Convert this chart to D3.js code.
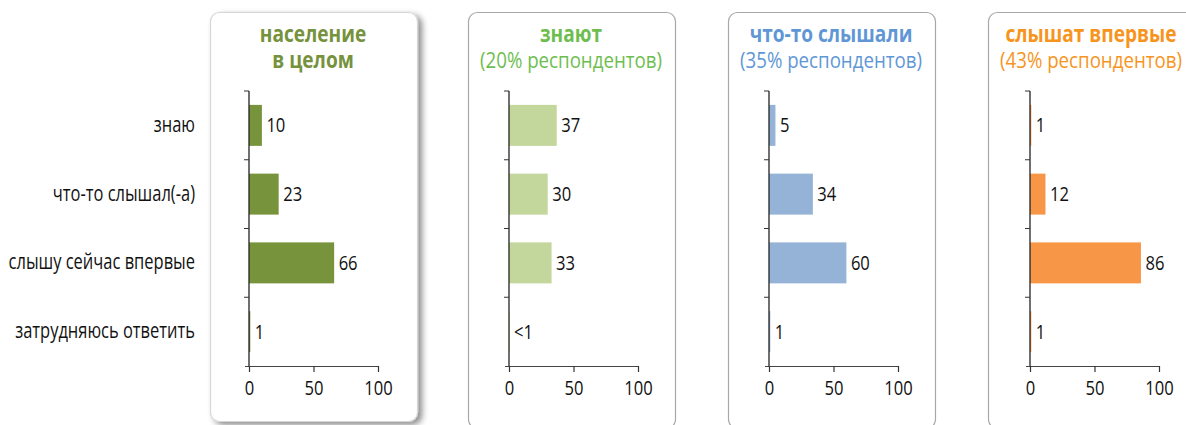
<!DOCTYPE html>
<html>
<head>
<meta charset="utf-8">
<script src="https://cdn.jsdelivr.net/npm/d3@7"></script>
<style>
  html, body { margin: 0; padding: 0; background: #fff; }
  svg { display: block; }
  text { font-family: "Open Sans", "Noto Sans", sans-serif; }
</style>
</head>
<body>
<svg id="chart" width="1186" height="425"></svg>
<script>
// Answer options (rows) and shares in percent for each group
const categories = ["знаю", "что-то слышал(-а)", "слышу сейчас впервые", "затрудняюсь ответить"];
const totalValues = [10, 23, 66, 1];
const knowValues = [37, 30, 33, 0.4];
const heardValues = [5, 34, 60, 1];
const firstTimeValues = [1, 12, 86, 1];
const knowLabels = ["37", "30", "33", "<1"];
const xTicks = [0, 50, 100];

const panels = [
  { title: "население", sub: "в целом", subBold: true, values: totalValues, labels: totalValues.map(String),
    bar: "#77933C", head: "#76923C", shadow: true },
  { title: "знают", sub: "(20% респондентов)", subBold: false, values: knowValues, labels: knowLabels,
    bar: "#C3D69B", head: "#6DBE4F", shadow: false },
  { title: "что-то слышали", sub: "(35% респондентов)", subBold: false, values: heardValues, labels: heardValues.map(String),
    bar: "#95B3D7", head: "#5F97D6", shadow: false },
  { title: "слышат впервые", sub: "(43% респондентов)", subBold: false, values: firstTimeValues, labels: firstTimeValues.map(String),
    bar: "#F79646", head: "#F7941D", shadow: false }
];

const svg = d3.select("#chart");

const defs = svg.append("defs");
const f = defs.append("filter").attr("id", "shadow")
  .attr("x", "-10%").attr("y", "-10%").attr("width", "130%").attr("height", "130%");
f.append("feDropShadow").attr("dx", 4).attr("dy", 3).attr("stdDeviation", 3)
  .attr("flood-color", "#000").attr("flood-opacity", 0.45);

// Narrow lettering: place text at (x, y) and squeeze it horizontally
function placeNarrow(sel, fx, fy, sx) {
  sel.attr("x", 0).attr("y", 0)
    .attr("transform", (d, i) => `translate(${fx(d, i)},${fy(d, i)}) scale(${sx},1)`);
}

const origins = [249, 509, 769, 1030];
const frameLefts = [210, 468, 728, 988];
const plotTop = 91, plotBottom = 366, plotWidth = 129;

const y = d3.scaleBand().domain(categories).range([plotTop, plotBottom])
  .paddingInner(0.404).paddingOuter(0.202);

// Row labels on the left
svg.append("g").selectAll("text").data(categories).join("text")
  .attr("text-anchor", "end")
  .attr("font-size", 21)
  .attr("fill", "#111")
  .text(d => d)
  .call(placeNarrow, () => 195, d => y(d) + y.bandwidth() / 2 + 6.5, 0.785);

panels.forEach((p, i) => {
  const ox = origins[i];
  const x = d3.scaleLinear().domain([0, 100]).range([ox, ox + plotWidth]);
  const g = svg.append("g");
  const left = frameLefts[i];

  // Rounded frame of the panel
  g.append("rect")
    .attr("x", left + 0.5).attr("y", 12.5)
    .attr("width", 207).attr("height", p.shadow ? 409 : 416)
    .attr("rx", 9)
    .attr("fill", "#fff")
    .attr("stroke", p.shadow ? "#d6d6d6" : "#a8a8a8")
    .attr("stroke-width", 1.2)
    .attr("filter", p.shadow ? "url(#shadow)" : null);

  const cx = left + 103;
  g.append("text").attr("text-anchor", "middle")
    .attr("font-size", 23).attr("font-weight", "bold").attr("fill", p.head).text(p.title)
    .call(placeNarrow, () => cx, () => 42, 0.83);
  g.append("text").attr("text-anchor", "middle")
    .attr("font-size", p.subBold ? 23 : 21).attr("font-weight", p.subBold ? "bold" : "normal")
    .attr("fill", p.head).text(p.sub)
    .call(placeNarrow, () => cx, () => 67.5, p.subBold ? 0.83 : 0.89);

  // Bars
  const rows = categories.map((c, k) => ({ c, v: p.values[k], label: p.labels[k] }));
  g.append("g").selectAll("rect").data(rows).join("rect")
    .attr("x", x(0)).attr("y", d => y(d.c))
    .attr("width", d => x(d.v) - x(0))
    .attr("height", y.bandwidth())
    .attr("fill", p.bar);

  g.append("g").selectAll("text").data(rows).join("text")
    .attr("font-size", 19.5).attr("fill", "#111")
    .text(d => d.label)
    .call(placeNarrow, d => x(d.v) + 4.5, d => y(d.c) + y.bandwidth() / 2 + 7, 0.85);

  // Horizontal axis
  const xAxis = d3.axisBottom(x).tickValues(xTicks).tickSize(6).tickPadding(9).tickSizeOuter(0);
  const ax = g.append("g").attr("transform", `translate(0,${plotBottom})`).call(xAxis);
  ax.select(".domain").attr("stroke", "#444").attr("stroke-width", 1.2).attr("d", `M${ox - 4},0.5H${ox + plotWidth}`);
  ax.selectAll(".tick line").attr("stroke", "#333").attr("stroke-width", 1.2);
  ax.selectAll(".tick text").attr("font-size", 19.5).attr("fill", "#111")
    .attr("font-family", "'Open Sans', 'Noto Sans', sans-serif")
    .attr("transform", "scale(0.85,1)");

  // Vertical axis with ticks between rows
  const bounds = d3.range(categories.length).map(k => plotTop + k * y.step());
  g.append("line").attr("x1", ox).attr("x2", ox).attr("y1", plotTop).attr("y2", plotBottom)
    .attr("stroke", "#222").attr("stroke-width", 1.3);
  g.append("g").selectAll("line").data(bounds).join("line")
    .attr("x1", ox - 5).attr("x2", ox).attr("y1", d => d).attr("y2", d => d)
    .attr("stroke", "#333").attr("stroke-width", 1);
});
</script>
</body>
</html>
